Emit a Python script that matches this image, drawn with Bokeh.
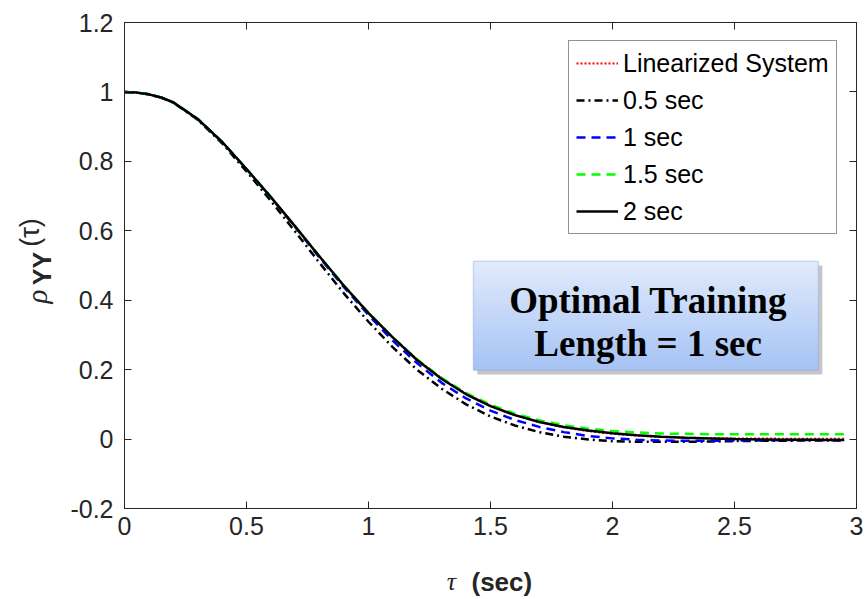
import math
from bokeh.plotting import figure
from bokeh.layouts import row, column
from bokeh.models import (Legend, LegendItem, Label, BoxAnnotation, LinearAxis,
                          FixedTicker, Range1d)
from bokeh.embed import file_html
from bokeh.resources import INLINE

# ---------------- data ----------------
tau = [0.0, 0.05, 0.1, 0.15, 0.2, 0.3, 0.4, 0.5, 0.6, 0.7, 0.8, 0.9,
       1.0, 1.1, 1.2, 1.3, 1.4, 1.5, 1.6, 1.7, 1.8, 1.9,
       2.0, 2.1, 2.2, 2.3, 2.4, 2.5, 2.6, 2.7, 2.8, 2.9, 2.95]

linearized = [1.000, 0.998, 0.993, 0.984, 0.970, 0.922, 0.856, 0.778, 0.697, 0.612, 0.526, 0.442,
              0.364, 0.293, 0.229, 0.175, 0.131, 0.096, 0.069, 0.049, 0.034, 0.023,
              0.015, 0.010, 0.006, 0.004, 0.003, 0.002, 0.002, 0.001, 0.001, 0.001, 0.001]

sec_0_5 = [1.000, 0.998, 0.993, 0.984, 0.969, 0.920, 0.852, 0.771, 0.686, 0.597, 0.507, 0.419,
           0.338, 0.264, 0.199, 0.145, 0.100, 0.065, 0.039, 0.020, 0.007, -0.001,
           -0.006, -0.008, -0.008, -0.008, -0.007, -0.006, -0.005, -0.005, -0.004, -0.004, -0.004]

sec_1 = [1.000, 0.998, 0.993, 0.984, 0.970, 0.922, 0.856, 0.778, 0.696, 0.610, 0.522, 0.437,
         0.357, 0.283, 0.218, 0.162, 0.117, 0.082, 0.055, 0.035, 0.020, 0.009,
         0.002, -0.002, -0.004, -0.005, -0.005, -0.004, -0.004, -0.003, -0.003, -0.003, -0.003]

sec_1_5 = [1.000, 0.998, 0.993, 0.984, 0.970, 0.922, 0.856, 0.778, 0.697, 0.612, 0.526, 0.442,
           0.364, 0.293, 0.229, 0.176, 0.133, 0.099, 0.073, 0.054, 0.040, 0.030,
           0.023, 0.019, 0.016, 0.015, 0.014, 0.014, 0.014, 0.014, 0.014, 0.014, 0.014]

sec_2 = [1.000, 0.998, 0.993, 0.984, 0.970, 0.922, 0.856, 0.778, 0.697, 0.612, 0.525, 0.441,
         0.363, 0.292, 0.227, 0.173, 0.129, 0.095, 0.069, 0.049, 0.035, 0.025,
         0.017, 0.011, 0.007, 0.004, 0.002, 0.000, -0.001, -0.002, -0.002, -0.003, -0.003]

series_labels = ["Linearized System", "0.5 sec", "1 sec", "1.5 sec", "2 sec"]

x_ticks = [0, 0.5, 1, 1.5, 2, 2.5, 3]
x_tick_labels = ["0", "0.5", "1", "1.5", "2", "2.5", "3"]
y_ticks = [-0.2, 0, 0.2, 0.4, 0.6, 0.8, 1.0, 1.2]
y_tick_labels = ["-0.2", "0", "0.2", "0.4", "0.6", "0.8", "1", "1.2"]

# ---------------- figure ----------------
AX = "#262626"
FONT = "Liberation Sans"
LEFT_W = 60      # width of strip holding the y label
BOTTOM_H = 39    # height of strip holding the x label
W, H = 867, 599
MAIN_H = H - BOTTOM_H
FRAME_L, FRAME_R = 124, 856   # page x of the plot frame

p = figure(width=W - LEFT_W, height=MAIN_H, x_range=Range1d(0, 3), y_range=Range1d(-0.2, 1.2),
           output_backend="svg", toolbar_location=None,
           min_border_left=FRAME_L - LEFT_W, min_border_right=W - FRAME_R, min_border_top=22,
           min_border_bottom=MAIN_H - 508)
p.background_fill_color = "white"
p.border_fill_color = "white"
p.outline_line_color = AX
p.outline_line_width = 1
p.grid.visible = False


def style_axis(ax, ticks, labels, show_labels=True):
    ax.ticker = FixedTicker(ticks=ticks)
    ax.major_tick_in = 7
    ax.major_tick_out = 0
    ax.major_tick_line_color = AX
    ax.minor_tick_line_color = None
    ax.axis_line_color = AX
    ax.major_label_text_font = FONT
    ax.major_label_text_color = AX
    if show_labels:
        ax.major_label_overrides = {t: l for t, l in zip(ticks, labels)}
        ax.major_label_text_font_size = "25px"
    else:
        ax.major_label_overrides = {t: "" for t in ticks}
        ax.major_label_text_font_size = "1px"
        ax.major_label_standoff = 0


style_axis(p.xaxis[0], x_ticks, x_tick_labels)
style_axis(p.yaxis[0], y_ticks, y_tick_labels)
p.xaxis[0].major_label_standoff = 8
p.yaxis[0].major_label_standoff = 11

top_ax = LinearAxis()
style_axis(top_ax, x_ticks, x_tick_labels, show_labels=False)
p.add_layout(top_ax, "above")
right_ax = LinearAxis()
style_axis(right_ax, y_ticks, y_tick_labels, show_labels=False)
p.add_layout(right_ax, "right")

# ---------------- curves ----------------
r_lin = p.line(tau, linearized, line_color="#ff0000", line_width=2, line_dash="2 2")
r_05 = p.line(tau, sec_0_5, line_color="black", line_width=2.5, line_dash="8 4 2 4")
r_1 = p.line(tau, sec_1, line_color="#0000ff", line_width=2.5, line_dash="9 6")
r_15 = p.line(tau, sec_1_5, line_color="#00ff00", line_width=2.5, line_dash="9 6")
r_2 = p.line(tau, sec_2, line_color="black", line_width=2.5)

renderers = [r_lin, r_05, r_1, r_15, r_2]
legend = Legend(items=[LegendItem(label=l, renderers=[r]) for l, r in zip(series_labels, renderers)],
                location=(444, 274), border_line_color=AX, border_line_width=1,
                background_fill_color="white", background_fill_alpha=1.0,
                label_text_font=FONT, label_text_font_size="25px", label_text_color="black",
                glyph_width=42, glyph_height=30, label_height=30, spacing=7, padding=7,
                label_standoff=5, margin=0)
p.add_layout(legend)

# ---------------- annotation box ----------------
bx_l, bx_r, bx_t, bx_b = 1.430, 2.844, 0.512, 0.198
p.add_layout(BoxAnnotation(left=bx_l + 0.016, right=bx_r + 0.016, top=bx_t - 0.012, bottom=bx_b - 0.012,
                           fill_color="#808080", fill_alpha=0.45, line_color=None))
c_top = (0xe0, 0xea, 0xfc)
c_bot = (0xa6, 0xc3, 0xf4)
n = 36
h = (bx_t - bx_b) / n
for i in range(n):
    f = i / (n - 1)
    col = "#%02x%02x%02x" % tuple(int(round(a + (b - a) * f)) for a, b in zip(c_top, c_bot))
    top = bx_t - i * h
    bot = max(bx_b, top - h * 1.6)
    p.add_layout(BoxAnnotation(left=bx_l, right=bx_r, top=top, bottom=bot,
                               fill_color=col, fill_alpha=1.0, line_color=None))
p.add_layout(BoxAnnotation(left=bx_l, right=bx_r, top=bx_t, bottom=bx_b,
                           fill_alpha=0, line_color="#7c9dd4", line_width=1.5))

for txt, yv in [("Optimal Training", 0.398), ("Length = 1 sec", 0.274)]:
    p.add_layout(Label(x=2.146, y=yv, text=txt, text_align="center", text_baseline="alphabetic",
                       text_font="Liberation Serif", text_font_style="bold",
                       text_font_size="37px", text_color="black"))


def strip(width, height, x0, x1, y0, y1):
    s = figure(width=width, height=height, x_range=Range1d(x0, x1), y_range=Range1d(y0, y1),
               output_backend="svg", toolbar_location=None, x_axis_type=None, y_axis_type=None,
               title=None, min_border=0, min_border_left=0, min_border_right=0,
               min_border_top=0, min_border_bottom=0)
    s.outline_line_color = None
    s.grid.visible = False
    s.background_fill_color = "white"
    s.border_fill_color = "white"
    return s


# y label strip: coordinates are page pixels (y from the top)
ys = strip(LEFT_W, H, 0, LEFT_W, H, 0)
ang = math.pi / 2
ys.add_layout(Label(x=36, y=296, text="ρ", text_align="center", text_baseline="middle",
                    angle=ang, text_font="Liberation Serif", text_font_style="italic",
                    text_font_size="29px", text_color=AX))
ys.add_layout(Label(x=41, y=268, text="YY", text_align="center", text_baseline="middle",
                    angle=ang, text_font=FONT, text_font_style="bold",
                    text_font_size="25px", text_color=AX))
ys.add_layout(Label(x=29, y=232, text="(τ)", text_align="center", text_baseline="middle",
                    angle=ang, text_font=FONT,
                    text_font_size="27px", text_color=AX))

# x label strip: its frame lines up with the plot frame, so map it to page pixels
xs = strip(W - LEFT_W, BOTTOM_H, FRAME_L, FRAME_R, H, MAIN_H)
xs.add_layout(Label(x=451, y=581, text="τ", text_align="center", text_baseline="middle",
                    text_font="Liberation Serif", text_font_style="italic",
                    text_font_size="26px", text_color=AX))
xs.add_layout(Label(x=471, y=581, text="(sec)", text_align="left", text_baseline="middle",
                    text_font=FONT, text_font_style="bold",
                    text_font_size="26px", text_color=AX))

layout = row(ys, column(p, xs, spacing=0), spacing=0)
open("out.html", "w").write(file_html(layout, INLINE))
